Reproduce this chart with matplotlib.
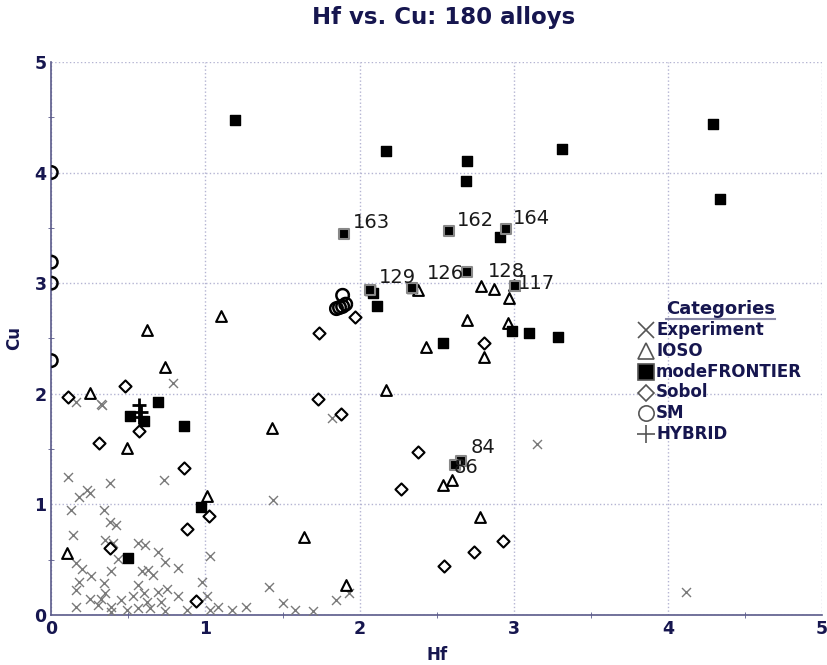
import matplotlib
matplotlib.use("Agg")
import matplotlib.pyplot as plt
from matplotlib.lines import Line2D
from matplotlib.patches import Arc
from matplotlib.ticker import MultipleLocator

NAVY = "#16164f"
GRID = "#b4b4d2"

# Experiment (x markers)
exp_hf = [0.79, 0.16, 0.33, 0.11, 0.38, 0.73, 0.23, 0.25, 0.18, 0.13, 0.34, 0.38, 0.42,
          0.14, 0.35, 0.40, 0.56, 0.61, 0.69, 0.43, 0.74, 1.03, 0.16, 0.20, 0.82, 0.39,
          0.59, 0.63, 0.66, 0.26, 0.18, 0.98, 0.34, 0.56, 0.75, 0.16, 0.69, 0.35, 0.60,
          0.53, 0.82, 1.01, 0.25, 0.32, 0.45, 0.62, 0.71, 0.30, 0.16, 0.39, 0.56, 0.64,
          0.74, 0.88, 0.49, 1.03, 1.08, 1.17, 1.26, 0.39, 0.32, 1.82, 1.44, 1.41, 1.85,
          1.93, 1.50, 1.58, 1.70, 3.15, 4.12]
exp_cu = [2.10, 1.93, 1.90, 1.25, 1.19, 1.22, 1.13, 1.10, 1.07, 0.95, 0.95, 0.84, 0.81,
          0.72, 0.68, 0.65, 0.65, 0.63, 0.57, 0.51, 0.48, 0.53, 0.47, 0.42, 0.43, 0.40,
          0.40, 0.41, 0.36, 0.35, 0.30, 0.30, 0.29, 0.27, 0.24, 0.23, 0.21, 0.20, 0.20,
          0.17, 0.17, 0.17, 0.15, 0.15, 0.14, 0.12, 0.12, 0.09, 0.07, 0.07, 0.06, 0.06,
          0.04, 0.05, 0.05, 0.05, 0.07, 0.05, 0.07, 0.03, 1.91, 1.78, 1.04, 0.25, 0.14,
          0.20, 0.11, 0.05, 0.04, 1.55, 0.21]

# IOSO (open triangles)
ioso_hf = [0.74, 0.25, 0.49, 1.01, 0.10, 0.62, 1.10, 1.43, 1.64, 1.91, 2.17, 2.38, 2.79,
           2.87, 3.00, 2.97, 2.70, 2.96, 2.43, 2.81, 2.54, 2.60, 2.78]
ioso_cu = [2.24, 2.01, 1.51, 1.08, 0.56, 2.58, 2.70, 1.69, 0.71, 0.27, 2.03, 2.94, 2.97,
           2.95, 2.98, 2.87, 2.67, 2.64, 2.42, 2.33, 1.18, 1.22, 0.89]

# modeFRONTIER (filled squares)
mf_hf = [1.19, 2.17, 2.70, 2.69, 3.31, 4.29, 4.34, 2.91, 2.07, 2.09, 2.11, 2.34, 2.99,
         3.10, 3.29, 2.54, 0.51, 0.60, 0.69, 0.86, 0.97, 0.50]
mf_cu = [4.47, 4.19, 4.10, 3.92, 4.21, 4.44, 3.76, 3.42, 2.94, 2.91, 2.79, 2.96, 2.57,
         2.55, 2.51, 2.46, 1.80, 1.75, 1.93, 1.71, 0.98, 0.52]

# labelled modeFRONTIER designs
lab_names = ["163", "162", "164", "129", "126", "128", "117", "84", "86"]
lab_hf = [1.90, 2.58, 2.95, 2.07, 2.34, 2.70, 3.01, 2.66, 2.62]
lab_cu = [3.44, 3.47, 3.49, 2.94, 2.96, 3.10, 2.97, 1.39, 1.36]
lab_offsets = [(6, 4.3), (6, 3.6), (5, 3.6), (6, 5), (11, 6), (15, -3.5), (2, -2),
               (6.5, 5.8), (-1, -6)]

# Sobol (open diamonds)
sob_hf = [0.11, 0.48, 0.31, 0.57, 0.86, 1.02, 0.88, 0.38, 0.94, 1.73, 1.88, 1.74, 1.97,
          2.81, 2.38, 2.27, 2.93, 2.74, 2.55]
sob_cu = [1.97, 2.07, 1.56, 1.66, 1.33, 0.90, 0.78, 0.61, 0.13, 1.95, 1.82, 2.55, 2.69,
          2.46, 1.47, 1.14, 0.67, 0.57, 0.44]

# SM (open circles)
sm_hf = [0.0, 0.0, 0.0, 0.0, 1.85, 1.87, 1.89, 1.91, 1.89]
sm_cu = [4.00, 3.19, 3.00, 2.30, 2.77, 2.78, 2.79, 2.81, 2.89]

# HYBRID (plus)
hy_hf = [0.57, 0.58, 0.57]
hy_cu = [1.90, 1.84, 1.79]

fig = plt.figure(figsize=(8.27, 6.65), dpi=100)
ax = fig.add_axes([0.062, 0.075, 0.932, 0.832])
ax.set_xlim(0, 5)
ax.set_ylim(0, 5)

ax.scatter(exp_hf, exp_cu, marker="x", s=42, c="#7a7a7a", linewidths=1.0, zorder=3)
ax.scatter(ioso_hf, ioso_cu, marker="^", s=60, facecolors="white", edgecolors="black",
           linewidths=1.5, zorder=3)
ax.scatter(mf_hf, mf_cu, marker="s", s=42, c="black", zorder=4)
ax.scatter(lab_hf, lab_cu, marker="s", s=55, c="black", edgecolors="#888888",
           linewidths=1.5, zorder=4)
ax.scatter(sob_hf, sob_cu, marker="D", s=38, facecolors="white", edgecolors="black",
           linewidths=1.5, zorder=3)
# circles as arcs; the ones sitting on the x=0 edge only show their inner half
px_x = ax.bbox.width / 5.0
px_y = ax.bbox.height / 5.0
for hx, cy in zip(sm_hf, sm_cu):
    t1, t2 = (-90, 90) if hx <= ax.get_xlim()[0] else (0, 360)
    ax.add_patch(Arc((hx, cy), 12.5 / px_x, 12.5 / px_y, theta1=t1, theta2=t2,
                     edgecolor="black", linewidth=1.8, zorder=3))
ax.scatter(hy_hf, hy_cu, marker="+", s=110, c="black", linewidths=2.0, zorder=5)

for name, hx, cy, off in zip(lab_names, lab_hf, lab_cu, lab_offsets):
    ax.annotate(name, (hx, cy), xytext=off, textcoords="offset points",
                fontsize=14, color="#1a1a1a", zorder=6)

ax.xaxis.set_major_locator(MultipleLocator(1))
ax.yaxis.set_major_locator(MultipleLocator(1))
ax.xaxis.set_minor_locator(MultipleLocator(0.5))
ax.yaxis.set_minor_locator(MultipleLocator(0.5))
ax.grid(True, which="major", color=GRID, linestyle=":", linewidth=1.0)
ax.set_axisbelow(True)
for side in ["top", "right"]:
    ax.spines[side].set_visible(False)
for side in ["left", "bottom"]:
    ax.spines[side].set_color("#5a5a8a")
    ax.spines[side].set_linewidth(1.2)
ax.tick_params(which="major", direction="in", length=0, colors=NAVY, labelsize=12.5)
ax.tick_params(which="minor", direction="inout", length=4, color="#5a5a8a")
for lbl in ax.get_xticklabels() + ax.get_yticklabels():
    lbl.set_fontweight("bold")

ax.set_xlabel("Hf", color=NAVY, fontsize=12, fontweight="bold", labelpad=6)
ax.set_ylabel("Cu", color=NAVY, fontsize=12, fontweight="bold", labelpad=8)
fig.text(0.537, 0.974, "Hf vs. Cu: 180 alloys", color=NAVY, fontsize=16.5,
         fontweight="bold", ha="center", va="center")

LEG_GRAY = "#555555"
handles = [
    Line2D([], [], ls="none", marker="x", ms=11, mew=1.2, color=LEG_GRAY),
    Line2D([], [], ls="none", marker="^", ms=11, mew=1.2, mfc="white", mec=LEG_GRAY),
    Line2D([], [], ls="none", marker="s", ms=11, mew=1.2, mfc="black", mec=LEG_GRAY),
    Line2D([], [], ls="none", marker="D", ms=8.5, mew=1.2, mfc="white", mec=LEG_GRAY),
    Line2D([], [], ls="none", marker="o", ms=11, mew=1.2, mfc="white", mec=LEG_GRAY),
    Line2D([], [], ls="none", marker="+", ms=13, mew=1.2, color=LEG_GRAY),
]
names = ["Experiment", "IOSO", "modeFRONTIER", "Sobol", "SM", "HYBRID"]
leg = ax.legend(handles, names, loc="upper left", bbox_to_anchor=(0.755, 0.579),
                frameon=False, title="Categories", handletextpad=0.25,
                labelspacing=0.2, borderaxespad=0, handlelength=1.0)
leg.get_title().set_fontweight("bold")
leg.get_title().set_color(NAVY)
leg.get_title().set_fontsize(13)
for txt in leg.get_texts():
    txt.set_color(NAVY)
    txt.set_fontweight("bold")
    txt.set_fontsize(12)
leg.set_zorder(10)

# underline the legend title
fig.canvas.draw()
bb = leg.get_title().get_window_extent()
fig.add_artist(Line2D([bb.x0, bb.x1], [bb.y0 - 1, bb.y0 - 1], transform=None,
                      color="#8a8aa8", linewidth=1.5))

fig.savefig("out.png", dpi=100)
